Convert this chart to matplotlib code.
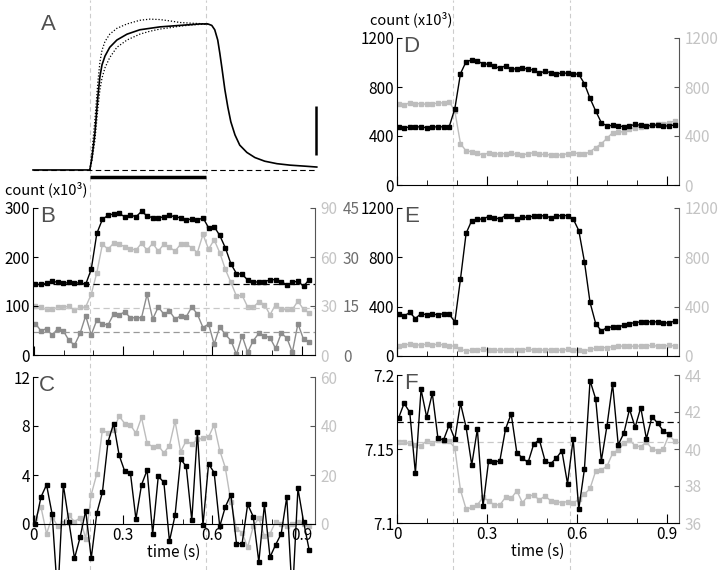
import numpy as np
import matplotlib
matplotlib.use('Agg')
import matplotlib.pyplot as plt
from matplotlib.ticker import MultipleLocator

plt.rcParams['font.family'] = ['Noto Sans CJK JP', 'DejaVu Sans']

# sampling and stimulus
DT = 0.01878
t = 0.005 + DT * np.arange(50)
stim = [0.188, 0.577]

# panel A: normalised response, smooth trace and two dotted fits
a_t = [-0.003, 0.087, 0.182, 0.188, 0.195, 0.205, 0.215, 0.222, 0.229, 0.239, 0.255,
       0.279, 0.313, 0.356, 0.424, 0.491, 0.558, 0.585, 0.598, 0.608, 0.618, 0.625,
       0.632, 0.642, 0.652, 0.662, 0.676, 0.692, 0.716, 0.743, 0.776, 0.817, 0.861,
       0.911, 0.951]
a_v = [0, 0, 0, 0, 0.08, 0.25, 0.5, 0.64, 0.72, 0.78, 0.84,
       0.89, 0.93, 0.96, 0.98, 0.99, 1.0, 1.0, 0.99, 0.96, 0.89, 0.80,
       0.70, 0.55, 0.43, 0.33, 0.24, 0.17, 0.12, 0.085, 0.06, 0.043, 0.033,
       0.026, 0.02]
fit_t = [0.188, 0.195, 0.205, 0.215, 0.222, 0.229, 0.239, 0.255, 0.279, 0.313, 0.356,
         0.39, 0.424, 0.46, 0.491, 0.53, 0.585]
fit_hi = [0, 0.12, 0.34, 0.6, 0.74, 0.82, 0.88, 0.93, 0.97, 1.0, 1.025,
          1.033, 1.03, 1.02, 1.01, 1.005, 1.0]
fit_lo = [0, 0.06, 0.2, 0.42, 0.55, 0.63, 0.7, 0.77, 0.84, 0.89, 0.93,
          0.95, 0.965, 0.975, 0.985, 0.993, 1.0]

# panel B
b_black = [144, 144, 146, 151, 148, 146, 148, 146, 148, 144,
           175, 248, 277, 285, 288, 289, 282, 286, 282, 293,
           284, 280, 280, 282, 285, 282, 280, 275, 278, 275,
           280, 260, 262, 244, 219, 186, 166, 165, 153, 149,
           149, 150, 153, 154, 150, 143, 148, 151, 140, 154]
b_light = [30.0, 29.1, 27.9, 27.9, 29.1, 29.1, 30.0, 27.3, 29.1, 29.4,
           37.2, 50.4, 67.8, 64.8, 68.4, 67.8, 66.3, 65.1, 64.2, 68.4,
           64.2, 68.4, 63.6, 67.8, 66.0, 63.6, 67.8, 67.8, 65.7, 62.7,
           73.8, 64.8, 70.5, 62.7, 52.5, 44.4, 36.0, 36.6, 29.4, 29.1,
           32.7, 30.9, 24.6, 30.9, 27.9, 27.9, 27.9, 33.0, 27.9, 25.8]
b_mid = [9.6, 7.4, 8.1, 6.0, 8.1, 7.4, 4.5, 3.0, 6.6, 12.0,
         6.2, 10.7, 9.5, 9.2, 12.5, 12.3, 13.2, 11.4, 11.4, 11.4,
         18.6, 11.0, 14.7, 12.5, 13.5, 11.0, 12.0, 11.7, 14.7, 12.5,
         8.4, 9.5, 3.3, 8.6, 6.3, 4.4, 0.2, 5.9, 0.8, 4.4,
         6.6, 5.9, 5.3, 2.0, 6.6, 5.3, 0.8, 9.6, 4.8, 4.1]
b_base = [144, 28.5, 6.9]

# panel C
c_black = [0, 2.2, 3.2, 0.8, -6, 3.2, 0.2, -2.8, -1.1, 1.1,
           -2.8, 0.9, 2.6, 6.7, 8.2, 5.6, 4.3, 4.2, 0.4, 3.2,
           4.4, -0.8, 3.9, 3.4, -1.4, 0.7, 5.3, 4.7, 0.3, 7.5,
           -0.1, 4.9, 4.2, -0.2, 1.4, 2.4, -1.6, -1.6, 1.6, 0.6,
           -3.1, 1.6, -2.7, -1.7, -0.8, 2.2, -6, 2.9, 0.2, -2.1]
c_light = [2.5, 7, -4, 3, -1, 0.3, 3.5, 1, 2.5, -6,
           12, 20.5, 38.5, 37, 38.5, 44, 41, 40.5, 37, 43.5,
           33, 31.5, 32, 29, 32, 42, 29.5, 34, 32.5, 34.5,
           35, 35.5, 40.5, 30, 23, 9, -2, -3.5, -9.5, -1,
           2.5, -5, -4, 1, 0, -1, 0, 1, 0, -1]

# panel D
d_black = [473, 468, 473, 476, 473, 468, 476, 473, 476, 476,
           623, 909, 1007, 1020, 1012, 990, 985, 971, 952, 974,
           944, 950, 958, 944, 938, 911, 930, 917, 903, 917,
           911, 909, 903, 827, 707, 604, 509, 482, 487, 482,
           476, 482, 495, 487, 482, 487, 490, 482, 482, 490]
d_light = [658, 653, 672, 664, 664, 658, 664, 667, 672, 680,
           604, 337, 278, 272, 264, 242, 264, 250, 256, 256,
           258, 250, 245, 256, 264, 250, 250, 245, 245, 245,
           256, 264, 256, 250, 272, 305, 337, 381, 427, 435,
           433, 454, 468, 476, 482, 487, 495, 495, 509, 522]

# panel E
e_black = [344, 325, 353, 304, 344, 334, 339, 334, 344, 339,
           277, 624, 995, 1098, 1107, 1112, 1131, 1120, 1112, 1139,
           1134, 1112, 1125, 1125, 1134, 1134, 1139, 1120, 1134, 1139,
           1139, 1112, 1017, 765, 434, 263, 203, 231, 236, 236,
           250, 263, 271, 277, 277, 277, 277, 271, 266, 285]
e_light = [81, 90, 95, 90, 90, 95, 90, 95, 90, 81,
           81, 54, 41, 46, 49, 54, 49, 46, 46, 46,
           49, 49, 52, 54, 49, 46, 49, 52, 49, 46,
           54, 49, 46, 41, 54, 62, 68, 68, 76, 79,
           81, 79, 79, 81, 81, 87, 79, 81, 87, 81]

# panel F
f_black = [7.1708, 7.1809, 7.1748, 7.1337, 7.1903, 7.1715, 7.1876, 7.1573, 7.1562, 7.1663,
           7.1566, 7.1809, 7.1647, 7.1393, 7.1634, 7.1112, 7.1422, 7.1409, 7.1422, 7.1636,
           7.1737, 7.1476, 7.1438, 7.1409, 7.1533, 7.1562, 7.1422, 7.1400, 7.1438, 7.1488,
           7.1265, 7.1566, 7.1094, 7.1364, 7.1962, 7.1838, 7.1420, 7.1656, 7.1939, 7.1528,
           7.1607, 7.1769, 7.1647, 7.1780, 7.1569, 7.1719, 7.1674, 7.1622, 7.1598, np.nan]
f_light = [40.36, 40.36, 40.30, 40.23, 40.18, 40.44, 40.30, 40.48, 40.41, 40.44,
           40.05, 37.78, 36.75, 36.84, 36.98, 37.39, 37.19, 36.98, 36.98, 37.39,
           37.33, 37.74, 37.10, 37.46, 37.51, 37.24, 37.46, 37.21, 37.16, 37.10,
           37.16, 37.07, 37.28, 37.55, 37.87, 38.81, 38.88, 39.06, 39.77, 39.95,
           40.30, 40.48, 40.18, 40.12, 40.39, 40.00, 39.91, 40.00, 40.76, 40.44]
f_base = [7.1685, 40.36]

LIGHT = '#bdbdbd'
LIGHT_TXT = '#c4c4c4'
MID = '#8c8c8c'
MID_TXT = '#6e6e6e'
RSPINE = '#555555'
W, H = 720, 570
XL_LEFT = (-0.003, 0.945)
XL_RIGHT = (0.0, 0.94)

fig = plt.figure(figsize=(7.2, 5.7), dpi=100)


def box(x0, x1, top, bottom):
    return [x0 / W, 1 - bottom / H, (x1 - x0) / W, (bottom - top) / H]


# stimulus lines running down each column
for x0, x1, xl in [(33, 315, XL_LEFT), (397, 679, XL_RIGHT)]:
    ov = fig.add_axes(box(x0, x1, 0, H), zorder=0)
    ov.set_xlim(xl)
    ov.set_ylim(0, 1)
    ov.axis('off')
    for s in stim:
        ov.axvline(s, color='#cccccc', lw=0.8, ls=(0, (4, 3)))


def panel(pos, xl, ylim, yticks, ylabels, letter, xlabels=False):
    ax = fig.add_axes(pos, zorder=2)
    ax.set_facecolor('none')
    ax.set_xlim(xl)
    ax.set_ylim(ylim)
    for s in ['top', 'right']:
        ax.spines[s].set_visible(False)
    ax.set_yticks(yticks, labels=ylabels)
    ax.set_xticks([0, 0.3, 0.6, 0.9], labels=['0', '0.3', '0.6', '0.9'])
    ax.xaxis.set_minor_locator(MultipleLocator(0.1))
    ax.tick_params(direction='in', which='both', labelsize=11, pad=2)
    ax.tick_params(axis='y', length=3.5)
    ax.tick_params(axis='x', which='major', length=6.5)
    ax.tick_params(axis='x', which='minor', length=3.6)
    if xlabels:
        ax.set_xlabel('time (s)', fontsize=11, labelpad=0)
    else:
        ax.tick_params(labelbottom=False)
    ax.text(0.05, 0.945, letter, transform=ax.transAxes, ha='center', va='center',
            fontsize=16, color='#505050', family='Liberation Sans')
    return ax


def twin(ax, ylim, yticks, color, pad=3, spine=True):
    tw = ax.twinx()
    tw.set_zorder(1)
    tw.set_ylim(ylim)
    tw.set_yticks(yticks, labels=[str(v) for v in yticks])
    for s in ['top', 'left', 'bottom']:
        tw.spines[s].set_visible(False)
    if spine:
        tw.spines['right'].set_color(RSPINE)
        tw.tick_params(axis='y', direction='in', length=3.5, color=RSPINE,
                       labelsize=11, labelcolor=color, pad=pad)
    else:
        tw.spines['right'].set_visible(False)
        tw.tick_params(axis='y', length=0, labelsize=11, labelcolor=color, pad=pad)
    return tw


def black_line(ax, y, clip=True):
    ax.plot(t, y, color='k', lw=1.0, marker='s', ms=2.8, clip_on=clip, zorder=3)


def grey_line(ax, y, color, clip=True):
    ax.plot(t, y, color=color, lw=1.0, marker='s', ms=2.6, mec=color, mfc=color,
            clip_on=clip)


# A
axA = fig.add_axes(box(33, 315, 0, 185), zorder=2)
axA.set_xlim(XL_LEFT)
axA.set_ylim(-0.103, 1.164)
axA.axis('off')
axA.plot(a_t, a_v, color='k', lw=1.2, clip_on=False)
axA.plot(fit_t, fit_hi, color='k', lw=0.9, ls=(0, (1, 1.5)), clip_on=False)
axA.plot(fit_t, fit_lo, color='k', lw=0.9, ls=(0, (1, 1.5)), clip_on=False)
axA.plot([a_t[0], a_t[-1]], [0, 0], color='k', lw=0.8, ls=(0, (5, 3)), clip_on=False)
axA.plot(stim, [-0.048, -0.048], color='k', lw=2.5, solid_capstyle='butt')
axA.plot([0.948, 0.948], [0.103, 0.438], color='k', lw=1.8, solid_capstyle='butt',
         clip_on=False)
fig.text(48 / W, 1 - 24 / H, 'A', ha='center', va='center', fontsize=16,
         color='#505050', family='Liberation Sans')

# B
axB = panel(box(33, 315, 208, 355), XL_LEFT, (0, 300), [0, 100, 200, 300],
            ['0', '100', '200', '300'], 'B')
twB1 = twin(axB, (0, 90), [0, 30, 60, 90], LIGHT_TXT, pad=4)
twB2 = twin(axB, (0, 45), [0, 15, 30, 45], MID_TXT, pad=20, spine=False)
grey_line(twB1, b_light, LIGHT)
grey_line(twB2, b_mid, MID)
black_line(axB, b_black)
axB.axhline(b_base[0], color='k', lw=0.9, ls=(0, (5, 3)))
twB1.axhline(b_base[1], color='#c8c8c8', lw=0.9, ls=(0, (5, 3)))
twB2.axhline(b_base[2], color='#999999', lw=0.9, ls=(0, (5, 3)))
axB.text(-0.1, 1.125, 'count (x10³)', transform=axB.transAxes, ha='left',
         va='center', fontsize=10.5)

# C
axC = panel(box(33, 315, 377, 524), XL_LEFT, (0, 12), [0, 4, 8, 12],
            ['0', '4', '8', '12'], 'C', xlabels=True)
twC = twin(axC, (0, 60), [0, 20, 40, 60], LIGHT_TXT, pad=4)
grey_line(twC, c_light, LIGHT, clip=False)
black_line(axC, c_black, clip=False)

# D
axD = panel(box(397, 679, 38, 185), XL_RIGHT, (0, 1200), [0, 400, 800, 1200],
            ['0', '400', '800', '1200'], 'D')
twD = twin(axD, (0, 1200), [0, 400, 800, 1200], LIGHT_TXT, pad=4)
grey_line(twD, d_light, LIGHT)
black_line(axD, d_black)
axD.text(-0.096, 1.125, 'count (x10³)', transform=axD.transAxes, ha='left',
         va='center', fontsize=10.5)

# E
axE = panel(box(397, 679, 208, 356), XL_RIGHT, (0, 1200), [0, 400, 800, 1200],
            ['0', '400', '800', '1200'], 'E')
twE = twin(axE, (0, 1200), [0, 400, 800, 1200], LIGHT_TXT, pad=4)
grey_line(twE, e_light, LIGHT)
black_line(axE, e_black)

# F
axF = panel(box(397, 679, 375, 523), XL_RIGHT, (7.1, 7.2), [7.1, 7.15, 7.2],
            ['7.1', '7.15', '7.2'], 'F', xlabels=True)
twF = twin(axF, (36, 44), [36, 38, 40, 42, 44], LIGHT_TXT, pad=4)
grey_line(twF, f_light, LIGHT)
black_line(axF, f_black)
axF.axhline(f_base[0], color='k', lw=0.9, ls=(0, (5, 3)))
twF.axhline(f_base[1], color='#c8c8c8', lw=0.9, ls=(0, (5, 3)))

fig.savefig('out.png', dpi=100)
